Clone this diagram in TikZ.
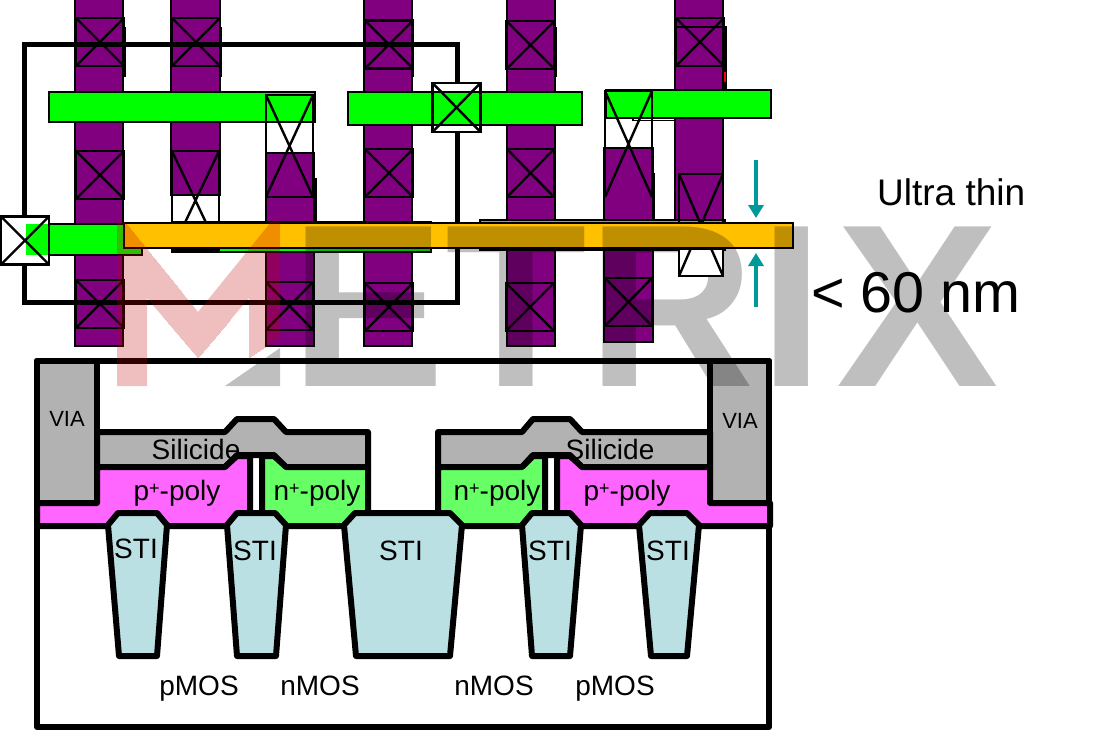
\documentclass[tikz,border=0pt]{standalone}
\usepackage{fontspec}
\setmainfont{Liberation Sans}
\usetikzlibrary{arrows.meta}
\definecolor{polycol}{HTML}{800080}
\definecolor{metalcol}{HTML}{00FF00}
\definecolor{barcol}{HTML}{FFC000}
\definecolor{viacol}{HTML}{B2B2B2}
\definecolor{ppolycol}{HTML}{FF66FF}
\definecolor{npolycol}{HTML}{66FF66}
\definecolor{sticol}{HTML}{BBE0E3}
\definecolor{arrcol}{HTML}{009999}
\definecolor{markcol}{HTML}{C00000}
\newcommand{\plussup}{\raisebox{6pt}{\fontsize{18}{18}\selectfont +}}
\begin{document}
\begin{tikzpicture}[x=1pt,y=-1pt,
                       poly/.style={draw,line width=2.4pt,fill=polycol},
                       metal/.style={draw,line width=2.4pt,fill=metalcol},
                       stub/.style={line width=2.4pt},
                       contact/.style={draw,line width=2.4pt,inner sep=0pt,outer sep=0pt,minimum width=48pt,minimum height=48pt,
                         path picture={\draw[line width=2.4pt] (path picture bounding box.north west) -- (path picture bounding box.south east)
                           (path picture bounding box.south west) -- (path picture bounding box.north east);}},
                       layer/.style={draw,line width=6pt,line join=round},
                       gap/.style={arrcol,line width=4pt,-{Triangle[width=15pt,length=13pt]}},
                       big text/.style={inner sep=0pt,anchor=base,font=\fontsize{28}{30}\selectfont},
                       small text/.style={inner sep=0pt,anchor=base,font=\fontsize{22}{24}\selectfont},
                       mark text/.style={inner sep=0pt,anchor=base west,text opacity=.25,font=\fontsize{232}{232}\bfseries\selectfont}
                      ]
  \useasboundingbox (0,0) rectangle (1114,731);
  \fill[white] (0,0) rectangle (1114,731);
  % plan view: poly stripes
  \draw[poly] (75,-3) rectangle (123,346);
  \draw[poly] (171,-3) rectangle (220,195);
  \draw[poly] (266,153) rectangle (314,346);
  \draw[poly] (364,-3) rectangle (412,346);
  \draw[poly] (507,-3) rectangle (555,346);
  \draw[poly] (604,148) rectangle (653,342);
  \draw[poly] (675,-3) rectangle (723,225);
  \draw[stub] (124.5,27) -- (124.5,77);
  \draw[stub] (221,27) -- (221,77);
  \draw[stub] (315.5,178) -- (315.5,222);
  \draw[stub] (413,20) -- (413,77);
  \draw[stub] (556,27) -- (556,77);
  \draw[stub] (654,173) -- (654,220);
  \draw[stub] (676,27) -- (725.5,27) -- (725.5,90);
  \draw[red,stub] (725,72) -- (725,82);
  \draw[line width=1.5pt] (633,116) -- (633,120.5) -- (675,120.5);
  % well frame
  \draw[line width=5pt] (24,44) rectangle (457,302);
  \fill[white] (1,217) rectangle (49,264);
  \fill[white] (432,83) rectangle (481,132);
  % metal bars
  \draw[metal] (49,92) rectangle (315,122);
  \draw[metal] (348,92) rectangle (582,125);
  \draw[metal] (606,90) rectangle (771,118);
  \fill[metalcol] (26,224) rectangle (142,255);
  \draw[line width=2.4pt] (49,224) -- (142,224) -- (142,255) -- (49,255);
  \draw[metal] (172,222) rectangle (431,252);
  \draw[metal] (480,220) rectangle (725,250);
  % contacts
  \node[contact] (c11) at (100,42) {};
  \node[contact] (c12) at (100,175) {};
  \node[contact] (c13) at (100,304) {};
  \node[contact] (c21) at (196,42) {};
  \node[contact,minimum width=47pt,minimum height=99pt] (c22) at (195.5,200.5) {};
  \node[contact,minimum width=47pt,minimum height=102pt] (c31) at (289.5,146) {};
  \node[contact,minimum width=47pt] (c32) at (289.5,306) {};
  \node[contact] (c41) at (389,44.5) {};
  \node[contact] (c42) at (389,173) {};
  \node[contact] (c43) at (389,307) {};
  \node[contact] (c51) at (530.5,45) {};
  \node[contact,minimum width=47pt] (c52) at (530.5,173) {};
  \node[contact] (c53) at (530,307) {};
  \node[contact,draw=none,minimum width=47pt,minimum height=106pt] (c61) at (628.5,144) {};
  \draw[stub] (c61.south west) -- (c61.north west) -- (c61.north east) -- (c61.south east);
  \node[contact,minimum width=47pt] (c62) at (628.5,302) {};
  \node[contact] (c71) at (700,42) {};
  \node[contact,minimum width=44pt,minimum height=102pt] (c72) at (701,225) {};
  \node[contact] (pad1) at (25,240.5) {};
  \node[contact,minimum height=49pt] (pad2) at (456.5,107.5) {};
  % thin film
  \draw[line width=2.4pt,fill=barcol] (124,223) rectangle (793,248);
  \coordinate (gap1) at (756,160);
  \coordinate (gap1e) at (756,218);
  \coordinate (gap2) at (756,307);
  \coordinate (gap2e) at (756,253);
  \draw[gap] (gap1) -- (gap1e);
  \draw[gap] (gap2) -- (gap2e);
  \node[inner sep=0pt,anchor=base west,font=\fontsize{37}{38}\selectfont] (thin) at (877,205) {Ultra thin};
  \node[inner sep=0pt,anchor=base west,font=\fontsize{57.5}{60}\selectfont] (width) at (811,312) {< 60 nm};
  % cross section
  \draw[layer] (37,361) rectangle (769,727);
  \draw[layer,fill=viacol] (37,361) -- (97,361) -- (97,503) -- (37,503) -- cycle;
  \draw[layer,fill=viacol] (710,361) -- (769,361) -- (769,503) -- (710,503) -- cycle;
  \draw[layer,fill=viacol] (97,432) -- (225,432) -- (237,419) -- (274,419) -- (286,432) -- (368,432) -- (368,467) -- (286,467) -- (274,455) -- (237,455) -- (225,467) -- (97,467) -- cycle;
  \draw[layer,fill=viacol] (438,432) -- (522,432) -- (533,419) -- (570,419) -- (582,432) -- (710,432) -- (710,467) -- (582,467) -- (570,455) -- (533,455) -- (522,467) -- (438,467) -- cycle;
  \draw[layer,fill=ppolycol] (37,503) -- (97,503) -- (97,467) -- (225,467) -- (237,456) -- (250,456) -- (250,526) -- (37,526) -- cycle;
  \draw[layer,fill=npolycol] (262,456) -- (274,456) -- (286,467) -- (368,467) -- (368,526) -- (262,526) -- cycle;
  \draw[layer,fill=npolycol] (438,467) -- (522,467) -- (533,456) -- (545,456) -- (545,526) -- (438,526) -- cycle;
  \draw[layer,fill=ppolycol] (557,456) -- (570,456) -- (582,467) -- (710,467) -- (710,503) -- (770,503) -- (770,526) -- (557,526) -- cycle;
  \draw[layer,fill=sticol] (108,525) -- (119,656) -- (157,656) -- (167,525) -- (157,513) -- (118,513) -- cycle;
  \draw[layer,fill=sticol] (227,525) -- (237,656) -- (276,656) -- (286,525) -- (275,513) -- (237,513) -- cycle;
  \draw[layer,fill=sticol] (344,525) -- (356,656) -- (450,656) -- (462,525) -- (450,513) -- (355,513) -- cycle;
  \draw[layer,fill=sticol] (522,525) -- (532,656) -- (570,656) -- (581,525) -- (570,513) -- (532,513) -- cycle;
  \draw[layer,fill=sticol] (639,525) -- (651,656) -- (687,656) -- (699,525) -- (687,513) -- (650,513) -- cycle;
  \node[small text] (via1) at (67,426) {VIA};
  \node[small text] (via2) at (740,428) {VIA};
  \node[big text] (sil1) at (196,459) {Silicide};
  \node[big text] (sil2) at (610,459) {Silicide};
  \node[big text] (pp1) at (177,500) {p\plussup-poly};
  \node[big text] (np1) at (317,500) {n\plussup-poly};
  \node[big text] (np2) at (497,500) {n\plussup-poly};
  \node[big text] (pp2) at (627,500) {p\plussup-poly};
  \node[big text] (sti1) at (136,558) {STI};
  \node[big text] (sti2) at (255,560) {STI};
  \node[big text] (sti3) at (401,560) {STI};
  \node[big text] (sti4) at (550,560) {STI};
  \node[big text] (sti5) at (668,560) {STI};
  \node[big text] (mos1) at (199,695) {pMOS};
  \node[big text] (mos2) at (320,695) {nMOS};
  \node[big text] (mos3) at (494,695) {nMOS};
  \node[big text] (mos4) at (615,695) {pMOS};
  % watermark, the M is a logo cut
  \begin{scope}[transparency group,opacity=.25]
    \clip (117,386) -- (117,222) -- (125,222) -- (198,312) -- (271,222) -- (280,222) -- (280,337) -- (249,358) -- (249,298) -- (198,358) -- (147,298) -- (147,386) -- cycle;
    \fill[markcol] (100,200) rectangle (300,400);
    \node[inner sep=0pt,anchor=base west,text=markcol,font=\fontsize{232}{232}\bfseries\selectfont] (markm) at (101,386) {M};
  \end{scope}
  \fill[black,opacity=.25] (225,386) -- (280,348) -- (280,386) -- cycle;
  \node[mark text] (marke) at (290,386) {E};
  \node[mark text] (markt) at (445,386) {T};
  \node[mark text] (markr) at (587,386) {R};
  \node[mark text] (marki) at (759,386) {I};
  \node[mark text,xscale=1.05,transform shape] (markx) at (836,386) {X};
  % lower end of the contact stays clear of the watermark
  \begin{scope}
    \clip (677,250) rectangle (727,280);
    \fill[white] (679,250) rectangle (723,276);
    \node[contact,minimum width=44pt,minimum height=102pt] (c72b) at (701,225) {};
  \end{scope}
\end{tikzpicture}
\end{document}
